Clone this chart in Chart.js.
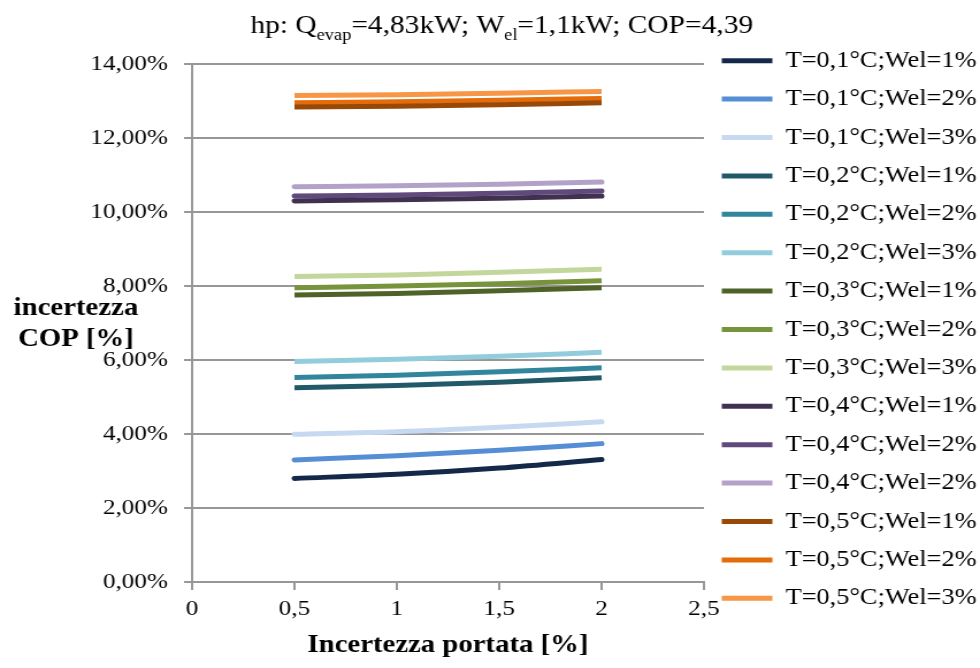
<!DOCTYPE html>
<html>
<head>
<meta charset="utf-8">
<script src="https://cdn.jsdelivr.net/npm/chart.js@4/dist/chart.umd.min.js"></script>
<style>
  html, body { margin: 0; padding: 0; background: #ffffff; overflow: hidden; }
  #chart { display: block; }
</style>
</head>
<body>
<!-- the drawing surface is a little narrower than the box it is shown in,
     so the whole chart comes out slightly widened -->
<canvas id="chart" width="852" height="668" style="width:980px;height:668px"></canvas>
<script>
// ---- data -------------------------------------------------------------
// flow-rate uncertainty [%]
const portata = [0.5, 1, 1.5, 2];

const seriesLabels = [
  'T=0,1°C;Wel=1%', 'T=0,1°C;Wel=2%', 'T=0,1°C;Wel=3%',
  'T=0,2°C;Wel=1%', 'T=0,2°C;Wel=2%', 'T=0,2°C;Wel=3%',
  'T=0,3°C;Wel=1%', 'T=0,3°C;Wel=2%', 'T=0,3°C;Wel=3%',
  'T=0,4°C;Wel=1%', 'T=0,4°C;Wel=2%', 'T=0,4°C;Wel=2%',
  'T=0,5°C;Wel=1%', 'T=0,5°C;Wel=2%', 'T=0,5°C;Wel=3%'
];

// COP uncertainty [%] for each combination
const t01w1 = [2.80, 2.91, 3.08, 3.31];
const t01w2 = [3.30, 3.41, 3.56, 3.74];
const t01w3 = [3.99, 4.06, 4.18, 4.33];
const t02w1 = [5.25, 5.31, 5.40, 5.52];
const t02w2 = [5.53, 5.59, 5.68, 5.79];
const t02w3 = [5.96, 6.02, 6.10, 6.21];
const t03w1 = [7.76, 7.80, 7.87, 7.95];
const t03w2 = [7.95, 8.00, 8.06, 8.14];
const t03w3 = [8.26, 8.30, 8.37, 8.45];
const t04w1 = [10.30, 10.33, 10.37, 10.43];
const t04w2 = [10.43, 10.46, 10.51, 10.57];
const t04w3 = [10.68, 10.71, 10.75, 10.81];
const t05w1 = [12.84, 12.86, 12.90, 12.95];
const t05w2 = [12.95, 12.98, 13.02, 13.07];
const t05w3 = [13.15, 13.17, 13.21, 13.26];

const seriesValues = [t01w1, t01w2, t01w3, t02w1, t02w2, t02w3, t03w1, t03w2, t03w3,
                      t04w1, t04w2, t04w3, t05w1, t05w2, t05w3];

// y ticks 0..14 %, x ticks 0..2.5 %
const yTicks = [0, 2, 4, 6, 8, 10, 12, 14];
const xTicks = [0, 0.5, 1, 1.5, 2, 2.5];

// ---- styles -----------------------------------------------------------
const lineColors = [
  '#14294A', '#558ED5', '#C6D9F1',
  '#215968', '#31859C', '#93CDDD',
  '#4F6228', '#77933C', '#C3D69B',
  '#403151', '#604A7B', '#B3A2C7',
  '#984807', '#E46C0A', '#F79646'
];
const lineCaps = [
  'round', 'round', 'round',
  'butt', 'butt', 'butt',
  'butt', 'butt', 'butt',
  'round', 'round', 'round',
  'butt', 'butt', 'butt'
];

const SERIF = '"Liberation Serif", "Times New Roman", Times, serif';
const GRID = '#979797';
const fmtComma = v => String(v).replace('.', ',');

const datasets = seriesValues.map((vals, i) => ({
  label: seriesLabels[i],
  data: portata.map((x, j) => ({ x: x, y: vals[j] })),
  borderColor: lineColors[i],
  backgroundColor: lineColors[i],
  borderWidth: 5,
  borderCapStyle: lineCaps[i],
  borderJoinStyle: 'round',
  pointRadius: 0,
  pointHoverRadius: 0,
  fill: false,
  cubicInterpolationMode: 'monotone'
}));

// ---- chart title with subscripts, laid out as its own box -------------
const titleBox = {
  position: 'top',
  weight: 2000,
  fullSize: false,
  options: {},
  isHorizontal() { return true; },
  update(maxWidth, maxHeight) {
    this.maxWidth = maxWidth; this.maxHeight = maxHeight;
    this.width = maxWidth; this.height = 64;
  },
  getPadding() { return { top: 0, left: 0, right: 0, bottom: 0 }; },
  draw() {
    const ctx = this.ctx;
    const main = '25.6px ' + SERIF, sub = '16px ' + SERIF;
    const parts = [
      ['hp: Q', main, 0], ['evap', sub, 6.5], ['=4,83kW; W', main, 0],
      ['el', sub, 6.5], ['=1,1kW; COP=4,39', main, 0]
    ];
    ctx.save();
    ctx.fillStyle = '#000';
    ctx.textBaseline = 'alphabetic';
    ctx.textAlign = 'left';
    let total = 0;
    parts.forEach(p => { ctx.font = p[1]; total += ctx.measureText(p[0]).width; });
    let x = this.chart.width * 0.512 - total / 2;
    const base = 33;
    parts.forEach(p => {
      ctx.font = p[1];
      ctx.fillText(p[0], x, base + p[2]);
      x += ctx.measureText(p[0]).width;
    });
    ctx.restore();
  }
};

const titlePlugin = {
  id: 'subscriptTitle',
  start(chart) {
    titleBox.chart = chart;
    titleBox.ctx = chart.ctx;
    Chart.layouts.addBox(chart, titleBox);
  }
};

// horizontal two-line y-axis title
const yTitlePlugin = {
  id: 'yTitle',
  afterDraw(chart) {
    const ctx = chart.ctx;
    ctx.save();
    ctx.font = 'bold 25px ' + SERIF;
    ctx.fillStyle = '#000';
    ctx.textAlign = 'center';
    ctx.textBaseline = 'alphabetic';
    ctx.fillText('incertezza', 66, 315);
    ctx.fillText('COP [%]', 66, 346);
    ctx.restore();
  }
};

new Chart(document.getElementById('chart'), {
  type: 'line',
  data: { datasets },
  plugins: [titlePlugin, yTitlePlugin],
  options: {
    responsive: false,
    animation: false,
    events: [],
    layout: { padding: { top: 0, right: 0, bottom: 9, left: 0 } },
    plugins: {
      tooltip: { enabled: false },
      title: { display: false },
      legend: {
        display: true,
        position: 'right',
        align: 'center',
        maxWidth: 240,
        labels: {
          usePointStyle: true,
          pointStyle: 'line',
          pointStyleWidth: 44,
          padding: 15.5,
          color: '#000',
          font: { family: SERIF, size: 22.9 }
        }
      }
    },
    scales: {
      x: {
        type: 'linear',
        min: 0, max: 2.5,
        afterBuildTicks: s => { s.ticks = xTicks.map(v => ({ value: v })); },
        afterFit: s => { s.height = 77; },
        grid: { drawOnChartArea: false, drawTicks: true, tickLength: 8, color: GRID, lineWidth: 2 },
        border: { display: true, color: GRID, width: 2 },
        ticks: {
          padding: 5.9,
          color: '#000',
          font: { family: SERIF, size: 21.9 },
          callback: v => fmtComma(v)
        },
        title: {
          display: true,
          text: 'Incertezza portata [%]',
          color: '#000',
          font: { family: SERIF, size: 25, weight: 'bold' },
          padding: { top: 0, bottom: -2 }
        }
      },
      y: {
        type: 'linear',
        min: 0, max: 14,
        afterBuildTicks: s => { s.ticks = yTicks.map(v => ({ value: v })); },
        afterFit: s => { s.width = 167; },
        grid: { drawTicks: true, tickLength: 7, color: GRID, lineWidth: 2 },
        border: { display: true, color: GRID, width: 2 },
        ticks: {
          padding: 14,
          color: '#000',
          font: { family: SERIF, size: 21.9 },
          callback: v => v.toFixed(2).replace('.', ',') + '%'
        }
      }
    }
  }
});
</script>
</body>
</html>
